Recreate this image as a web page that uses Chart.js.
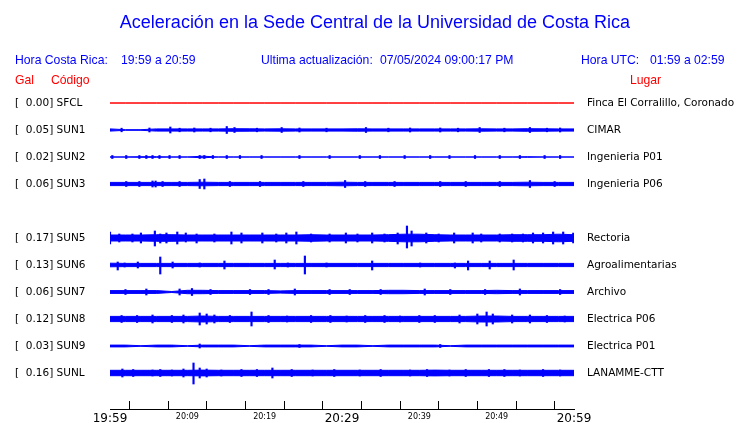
<!DOCTYPE html>
<html>
<head>
<meta charset="utf-8">
<script src="https://cdn.jsdelivr.net/npm/chart.js@4.4.1/dist/chart.umd.min.js"></script>
<style>
  body { margin: 0; background: #fff; }
  #wrap { position: relative; width: 740px; height: 423px; overflow: hidden; }
  #grafico { position: absolute; left: 0; top: 0; }
  .txt { position: absolute; font-family: "Liberation Sans", Arial, sans-serif; white-space: pre; line-height: 14px; font-size: 12.2px; }
  .azul { color: #0000ff; }
  .rojo { color: #ff0000; }
  #titulo { left: 0; width: 750px; top: 12px; text-align: center; font-size: 18px; line-height: 20px; }
</style>
</head>
<body>
<div id="wrap">
  <canvas id="grafico" width="740" height="423"></canvas>
  <div id="titulo" class="txt azul">Aceleración en la Sede Central de la Universidad de Costa Rica</div>
  <div class="txt azul" style="left:15px; top:53px;">Hora Costa Rica:</div>
  <div class="txt azul" style="left:121px; top:53px;">19:59 a 20:59</div>
  <div class="txt azul" style="left:261px; top:53px;">Ultima actualización:</div>
  <div class="txt azul" style="left:380px; top:53px;">07/05/2024 09:00:17 PM</div>
  <div class="txt azul" style="left:581px; top:53px;">Hora UTC:</div>
  <div class="txt azul" style="left:650px; top:53px;">01:59 a 02:59</div>
  <div class="txt rojo" style="left:15px; top:73px;">Gal</div>
  <div class="txt rojo" style="left:51px; top:73px;">Código</div>
  <div class="txt rojo" style="left:630px; top:73px;">Lugar</div>
</div>
<script>
// estaciones (fila 4 queda vacia, no hay SUN4)
const codigos = ['SFCL', 'SUN1', 'SUN2', 'SUN3', 'SUN5', 'SUN6', 'SUN7', 'SUN8', 'SUN9', 'SUNL'];
const picos = ['0.00', '0.05', '0.02', '0.06', '0.17', '0.13', '0.06', '0.12', '0.03', '0.16'];
const lugares = ['Finca El Corralillo, Coronado', 'CIMAR', 'Ingenieria P01', 'Ingenieria P06', 'Rectoria',
  'Agroalimentarias', 'Archivo', 'Electrica P06', 'Electrica P01', 'LANAMME-CTT'];
const filas = [0, 1, 2, 3, 5, 6, 7, 8, 9, 10];

// minutos desde las 19:59
const marcasMin = [0, 5, 10, 15, 20, 25, 30, 35, 40, 45, 50, 55, 60];
const etiquetasHora = ['19:59', '', '20:09', '', '20:19', '', '20:29', '', '20:39', '', '20:49', '', '20:59'];
const horasGrandes = ['19:59', '20:29', '20:59'];

// envolvente continua de cada traza, muestreada cada 2 minutos
const minutosBanda = [0, 2, 4, 6, 8, 10, 12, 14, 16, 18, 20, 22, 24, 26, 28, 30, 32, 34, 36, 38, 40, 42, 44, 46, 48, 50, 52, 54, 56, 58, 60];
const bandaSFCL = [0, 0, 0, 0, 0, 0, 0, 0, 0, 0, 0, 0, 0, 0, 0, 0, 0, 0, 0, 0, 0, 0, 0, 0, 0, 0, 0, 0, 0, 0, 0];
const bandaSUN1 = [1.1, 0.3, 0.3, 1.1, 1.1, 1.1, 1.1, 1.1, 1.3, 1.2, 1.1, 1.2, 1.1, 1.1, 1.1, 1.1, 1.2, 1.1, 1.1, 1.1, 1.1, 1.1, 1.1, 1.1, 1.2, 1.1, 1.1, 1.3, 1.2, 1.1, 1.1];
const bandaSUN2 = [0, 0, 0.3, 0.3, 0, 0, 0.8, 0, 0, 0, 0, 0, 0, 0, 0, 0, 0, 0, 0, 0, 0, 0, 0, 0, 0, 0, 0, 0.3, 0, 0, 0];
const bandaSUN3 = [1.6, 1.6, 1.6, 1.6, 1.6, 1.6, 1.8, 1.6, 1.6, 1.6, 1.6, 1.6, 1.6, 1.6, 1.6, 1.8, 1.6, 1.6, 1.6, 1.6, 1.6, 1.6, 1.6, 1.6, 1.6, 1.6, 1.6, 1.8, 1.6, 1.6, 1.6];
const bandaSUN5 = [3, 3, 3, 3.3, 3.3, 3, 3, 3, 3, 3, 3, 3, 3, 3.3, 3, 3, 3, 3, 3.3, 3.8, 3.8, 3.3, 3, 3, 3, 3, 3.3, 3.3, 3.3, 3.8, 3.3];
const bandaSUN6 = [1.8, 1.6, 1.6, 1.6, 1.6, 1.6, 1.6, 1.6, 1.6, 1.6, 1.6, 1.6, 1.6, 1.6, 1.6, 1.6, 1.6, 1.6, 1.6, 1.6, 1.6, 1.6, 1.6, 1.6, 1.6, 1.6, 1.6, 1.6, 1.6, 1.6, 1.6];
const bandaSUN7 = [1.4, 1.4, 1.4, 1.4, 0.5, 1.7, 1.7, 1.4, 1.4, 1.4, 1.4, 1.1, 1.4, 1.4, 1.4, 1.4, 1.4, 1.4, 1.7, 1.7, 1.4, 1.4, 1.4, 1.4, 1.4, 1.7, 1.4, 1.4, 1.4, 1.4, 1.4];
const bandaSUN8 = [2.6, 2.6, 2.6, 2.6, 2.6, 2.6, 3, 2.6, 2.6, 2.6, 2.6, 2.6, 2.6, 2.6, 2.6, 2.6, 2.6, 2.6, 2.6, 2.6, 2.6, 2.6, 2.6, 2.6, 3, 3, 2.6, 2.6, 2.6, 2.6, 2.6];
const bandaSUN9 = [0.9, 0.9, 0.3, 0.9, 0.9, 0.3, 0.9, 0.9, 0.9, 0.3, 0.9, 0.9, 0.9, 0.9, 0.3, 0.9, 0.9, 0.3, 0.9, 0.9, 0.9, 0.9, 0.3, 0.9, 0.9, 0.9, 0.9, 0.9, 0.9, 0.9, 0.9];
const bandaSUNL = [2.7, 2.7, 2.7, 2.7, 2.7, 2.7, 2.9, 2.7, 2.7, 2.7, 2.7, 2.7, 2.7, 2.7, 2.7, 2.7, 2.7, 2.7, 2.7, 2.7, 2.7, 2.9, 2.7, 2.7, 2.7, 2.7, 2.7, 2.7, 2.7, 2.7, 2.7];

// picos sueltos: [minuto, arriba, abajo]
const picosSFCL = [];
const picosSUN1 = [[1.5, 1.8, 1.8], [5.1, 2, 2], [7.8, 3, 3], [9.0, 1.8, 1.8], [10.9, 2, 2], [13.0, 1.8, 1.8], [15.1, 3.5, 3.5], [16.1, 2.5, 2.5], [19.0, 1.8, 1.8], [22.2, 2.5, 2.5], [24.5, 2, 2], [28.0, 1.8, 1.8], [33.1, 2.5, 2.5], [36.0, 1.8, 1.8], [38.8, 2, 2], [42.7, 2, 2], [45.0, 1.8, 1.8], [47.8, 2.5, 2.5], [51.0, 1.8, 1.8], [54.3, 2.5, 2.5], [56.5, 1.8, 1.8], [58.2, 2, 2]];
const picosSUN2 = [[0.3, 1.5, 1.5], [2.1, 1.5, 1.5], [3.8, 1.5, 1.5], [4.7, 1.5, 1.5], [5.5, 1.5, 1.5], [6.4, 1.5, 1.5], [7.7, 1.5, 1.5], [9.0, 1.5, 1.5], [11.6, 1.5, 1.5], [12.2, 1.5, 1.5], [13.3, 1.5, 1.5], [15.1, 1.5, 1.5], [16.8, 1.5, 1.5], [19.6, 1.5, 1.5], [24.5, 1.5, 1.5], [28.4, 1.5, 1.5], [32.3, 1.5, 1.5], [34.9, 1.5, 1.5], [38.1, 1.5, 1.5], [41.4, 1.5, 1.5], [43.9, 1.5, 1.5], [47.2, 1.5, 1.5], [50.4, 1.5, 1.5], [53.0, 1.5, 1.5], [56.2, 1.5, 1.5], [58.2, 1.5, 1.5]];
const picosSUN3 = [[2.1, 2.5, 2.5], [3.8, 2.5, 2.5], [5.5, 3, 3], [5.9, 3, 3], [6.8, 2.5, 2.5], [9.0, 2.5, 2.5], [11.6, 4.5, 4.5], [12.2, 5, 5], [15.5, 2.5, 2.5], [19.4, 2.5, 2.5], [25.0, 2.5, 2.5], [30.4, 3.5, 3.5], [33.0, 2.5, 2.5], [36.8, 2.5, 2.5], [42.7, 2.5, 2.5], [46.0, 2.5, 2.5], [50.4, 2.5, 2.5], [54.3, 3.5, 3.5], [57.5, 2.5, 2.5]];
const picosSUN5 = [[0, 6, 6], [1.2, 4, 4], [2.9, 4, 4], [4.0, 5, 5], [5.8, 7, 8], [6.5, 4, 5], [7.3, 5, 5], [8.7, 6, 6], [9.8, 5, 4], [11.2, 4, 5], [13.5, 4, 4], [15.7, 6, 6], [17.0, 5, 5], [19.7, 5, 5], [21.5, 4, 4], [22.8, 5, 5], [24.1, 6, 6], [26.0, 4, 4], [28.4, 4, 4], [30.5, 5, 5], [32.0, 4, 4], [33.9, 5, 5], [35.5, 4, 4], [37.2, 5, 6], [38.4, 12, 10], [39.0, 7, 8], [40.9, 5, 5], [42.5, 4, 4], [44.5, 5, 5], [46.9, 5, 5], [48.0, 4, 4], [50.4, 4, 4], [52.0, 4, 4], [53.4, 4, 4], [54.7, 5, 5], [56.0, 5, 5], [57.3, 6, 6], [58.6, 6, 6], [59.9, 5, 5]];
const picosSUN6 = [[1.0, 3, 5], [1.9, 2, 2], [3.6, 3, 3], [6.5, 8, 9], [8.1, 3, 3], [11.6, 2, 2], [14.8, 4, 4], [21.3, 5, 4], [23.0, 2, 2], [25.2, 9, 9], [28.0, 2, 2], [33.9, 4, 5], [40.1, 2, 2], [44.6, 2, 3], [46.3, 4, 5], [49.1, 4, 4], [52.2, 5, 5]];
const picosSUN7 = [[2.0, 2.5, 2.5], [4.7, 3, 3], [9.0, 3, 3], [10.6, 3.5, 3.5], [13.0, 2.5, 2.5], [18.1, 2.5, 2.5], [20.5, 2.5, 2.5], [23.9, 3, 3], [28.4, 2.5, 2.5], [31.0, 2.5, 2.5], [35.0, 2.5, 2.5], [40.7, 3, 3], [44.0, 2.5, 2.5], [48.5, 2.5, 2.5], [53.0, 3, 3], [58.2, 2.5, 2.5]];
const picosSUN8 = [[1.5, 3.5, 3.5], [3.5, 3.5, 3.5], [5.5, 4, 4], [8.0, 3.5, 3.5], [9.5, 4, 4], [11.6, 6, 6], [12.5, 5, 5], [13.5, 4, 4], [15.5, 3.5, 3.5], [18.3, 7, 7], [20.5, 3.5, 3.5], [22.9, 3, 3], [26.0, 3.5, 3.5], [28.5, 3.5, 3.5], [30.6, 3, 3], [33.0, 3.5, 3.5], [35.5, 3.5, 3.5], [37.5, 3, 3], [40.0, 3.5, 3.5], [42.0, 3.5, 3.5], [45.2, 4, 4], [47.5, 5, 5], [48.7, 7, 7], [49.5, 5, 5], [52.0, 4, 4], [54.3, 4, 4], [56.5, 3.5, 3.5], [58.8, 3, 3]];
const picosSUN9 = [[11.6, 2, 2], [24.5, 1.5, 1.5], [42.7, 1.5, 1.5]];
const picosSUNL = [[1.6, 4, 4], [3.0, 3.5, 3.5], [5.5, 3, 3], [6.5, 3.5, 3.5], [8.0, 3, 3], [9.5, 4, 4], [10.8, 10, 11], [11.6, 5, 5], [12.5, 4, 4], [14.4, 3, 3], [17.0, 3.5, 3.5], [19.0, 3.5, 3.5], [21.0, 5, 5], [23.5, 3.5, 3.5], [26.2, 3, 3], [29.0, 3.5, 3.5], [32.3, 3, 3], [35.0, 3.5, 3.5], [38.8, 3, 3], [41.0, 3.5, 3.5], [43.9, 3, 3], [46.0, 3.5, 3.5], [49.0, 3.5, 3.5], [51.0, 3.5, 3.5], [53.0, 3, 3], [56.0, 3.5, 3.5], [58.2, 3, 3]];

const bandas = [bandaSFCL, bandaSUN1, bandaSUN2, bandaSUN3, bandaSUN5, bandaSUN6, bandaSUN7, bandaSUN8, bandaSUN9, bandaSUNL];
const picosTraza = [picosSFCL, picosSUN1, picosSUN2, picosSUN3, picosSUN5, picosSUN6, picosSUN7, picosSUN8, picosSUN9, picosSUNL];

const UNIDADES_FILA = 27; // amplitud equivalente a la separacion entre trazas

let datasets = [];
for (let i = 0; i < codigos.length; i++) {
  let fila = filas[i];
  let color = codigos[i] === 'SFCL' ? '#ff0000' : '#0000ff';
  datasets.push({
    type: 'line',
    data: minutosBanda.map((m, k) => ({ x: m, y: fila - bandas[i][k] / UNIDADES_FILA })),
    borderColor: color, borderWidth: 1, pointRadius: 0, fill: false
  });
  datasets.push({
    type: 'line',
    data: minutosBanda.map((m, k) => ({ x: m, y: fila + bandas[i][k] / UNIDADES_FILA })),
    borderColor: color, backgroundColor: color, borderWidth: 1, pointRadius: 0, fill: '-1'
  });
  if (picosTraza[i].length) {
    datasets.push({
      type: 'bar',
      data: picosTraza[i].map(p => ({ x: p[0], y: [fila - p[1] / UNIDADES_FILA, fila + p[2] / UNIDADES_FILA] })),
      backgroundColor: color, borderWidth: 0, barThickness: 1.5, grouped: false
    });
  }
}

// linea del eje de tiempo debajo de las marcas
const lineaEje = {
  id: 'lineaEje',
  afterDraw(chart) {
    let x = chart.scales.x;
    let y = Math.round(x.top + 8) + 0.5;
    let ctx = chart.ctx;
    ctx.save();
    ctx.strokeStyle = '#000';
    ctx.lineWidth = 1;
    ctx.beginPath();
    ctx.moveTo(x.left, y);
    ctx.lineTo(x.right + 1, y);
    ctx.stroke();
    ctx.restore();
  }
};

const ticksFilas = (scale) => { scale.ticks = filas.map(v => ({ value: v })); };

new Chart(document.getElementById('grafico').getContext('2d'), {
  type: 'line',
  data: { datasets: datasets },
  options: {
    responsive: false,
    animation: false,
    events: [],
    layout: { padding: { top: 76, left: 15, right: 0, bottom: 0 } },
    plugins: { legend: { display: false }, tooltip: { enabled: false }, title: { display: false } },
    scales: {
      x: {
        type: 'linear', min: 0, max: 60, offset: false,
        afterBuildTicks: (scale) => { scale.ticks = marcasMin.map(v => ({ value: v })); },
        afterFit: (scale) => { scale.height = 22; },
        border: { display: false },
        grid: { drawOnChartArea: false, drawTicks: true, tickLength: 8, color: '#000', lineWidth: 1 },
        ticks: {
          autoSkip: false, maxRotation: 0, padding: 3, color: '#000',
          callback: (v) => etiquetasHora[marcasMin.indexOf(v)],
          font: (ctx) => {
            let lbl = ctx.tick ? etiquetasHora[marcasMin.indexOf(ctx.tick.value)] : '';
            return { family: 'DejaVu Sans', size: horasGrandes.includes(lbl) ? 12 : 8 };
          }
        }
      },
      y: {
        type: 'linear', position: 'left', reverse: true, min: -1, max: 11 + 1 / 27,
        afterBuildTicks: ticksFilas,
        afterFit: (scale) => { scale.width = 95; },
        border: { display: false },
        grid: { display: false, drawTicks: false },
        ticks: {
          crossAlign: 'far', color: '#000', autoSkip: false,
          font: { family: 'DejaVu Sans', size: 10.5 },
          callback: (v) => {
            let i = filas.indexOf(v);
            return i < 0 ? '' : '[  ' + picos[i] + '] ' + codigos[i];
          }
        }
      },
      y2: {
        type: 'linear', position: 'right', reverse: true, min: -1, max: 11 + 1 / 27,
        afterBuildTicks: ticksFilas,
        afterFit: (scale) => { scale.width = 166; },
        border: { display: false },
        grid: { display: false, drawTicks: false },
        ticks: {
          crossAlign: 'near', padding: 13, color: '#000', autoSkip: false,
          font: { family: 'DejaVu Sans', size: 10.5 },
          callback: (v) => {
            let i = filas.indexOf(v);
            return i < 0 ? '' : lugares[i];
          }
        }
      }
    }
  },
  plugins: [lineaEje]
});
</script>
</body>
</html>
